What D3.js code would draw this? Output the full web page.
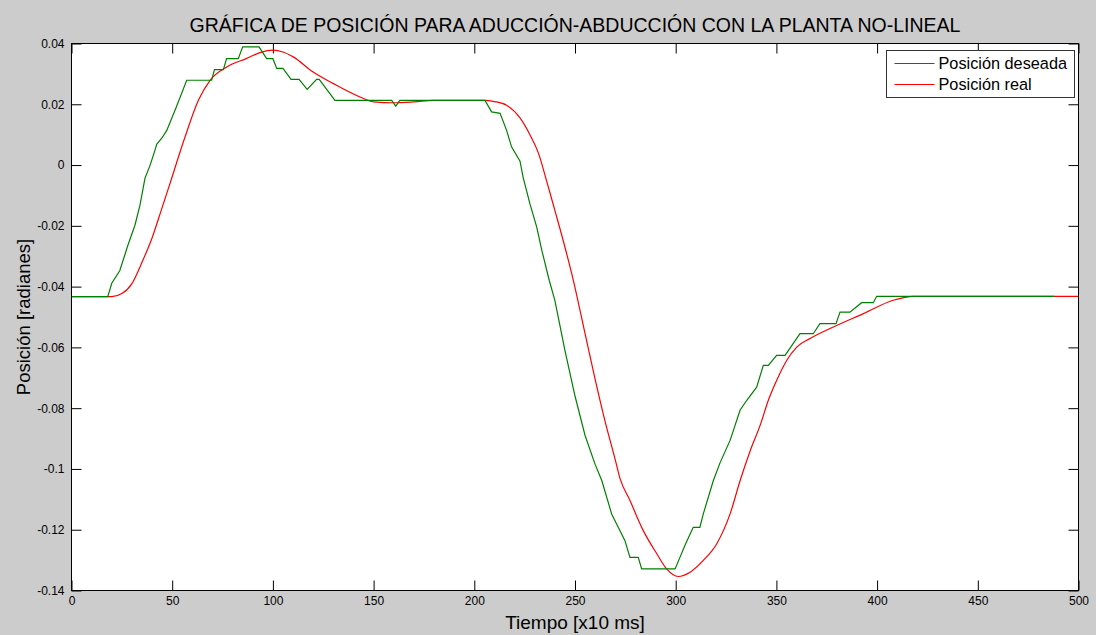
<!DOCTYPE html>
<html>
<head>
<meta charset="utf-8">
<script src="https://cdn.jsdelivr.net/npm/d3@7"></script>
<style>
  body { margin: 0; background: #cccccc; }
  svg { display: block; font-family: "Liberation Sans", Arial, sans-serif; }
</style>
</head>
<body>
<svg id="drawing_region"></svg>
<script>
// Posición deseada (escalonada)
const desiredT = [0, 18, 20, 24, 28, 31.5, 34, 36.5, 39, 41.5, 42.3, 45, 47.3, 52, 57.2, 69.6, 71, 75.4, 77, 82.8, 85, 93.1,
    96.9, 100, 101.9, 105, 109, 113, 117, 121.7, 123, 130.8, 159, 161, 163, 205.3, 208.6, 212.8, 216, 218.5, 222.7,
    224.3, 227.6, 231, 233.5, 237.2, 240, 245, 250, 255, 260, 263.3, 268.2, 274.8, 277.3, 281.4, 283.1, 299.7, 302.1,
    305, 308.7, 312, 313.7, 318.7, 322, 327, 332, 335.3, 340.2, 343.5, 346, 350.1, 354.3, 361.7, 368.3, 371.6, 379.6,
    381.6, 386.5, 392.3, 398.1, 399.8, 488];
const desiredPos = [-0.0433, -0.0433, -0.0389, -0.0347, -0.0264, -0.0198, -0.0132, -0.0043, -0.0001, 0.0050, 0.0068, 0.0090, 0.0114, 0.0190, 0.0279, 0.0279, 0.0314, 0.0314, 0.0350, 0.0350, 0.0389, 0.0389,
    0.0350, 0.0350, 0.0318, 0.0318, 0.0282, 0.0282, 0.0249, 0.0282, 0.0282, 0.0213, 0.0213, 0.0194, 0.0213, 0.0213, 0.0175, 0.0170, 0.0115, 0.0060, 0.0013,
    -0.0042, -0.0127, -0.0204, -0.0280, -0.0379, -0.0445, -0.0610, -0.0760, -0.0890, -0.0985, -0.1038, -0.1148, -0.1236, -0.1291, -0.1291, -0.1329, -0.1329, -0.1291,
    -0.1245, -0.1192, -0.1192, -0.1148, -0.1038, -0.0980, -0.0906, -0.0806, -0.0774, -0.0731, -0.0659, -0.0659, -0.0626, -0.0626, -0.0555, -0.0555, -0.0522, -0.0522,
    -0.0484, -0.0484, -0.0453, -0.0453, -0.0432, -0.0432];

// Posición real (suave)
const realT = [0, 20, 25, 30, 35, 40, 44.5, 48.6, 56.4, 63, 68.8, 77.1, 87, 93.6, 100.2, 105, 110.1, 120, 130, 143.2, 150,
    160, 170, 180, 205, 210, 216, 222.7, 227.6, 231.8, 235.9, 240, 244.2, 249.2, 255, 260, 265, 270, 272.3, 277.3,
    283.9, 290.6, 295.5, 301.3, 307.1, 313.7, 320.4, 327, 332, 337, 342, 346, 350.1, 355.1, 360.1, 366.7, 378.3,
    393.2, 408, 418, 500];
const realPos = [-0.0433, -0.0433, -0.0423, -0.0390, -0.0320, -0.0240, -0.0150, -0.0067, 0.0093, 0.0213, 0.0279, 0.0323, 0.0351, 0.0370, 0.0378, 0.0372, 0.0356, 0.0306, 0.0268, 0.0224, 0.0208,
    0.0205, 0.0208, 0.0213, 0.0213, 0.0209, 0.0197, 0.0155, 0.0100, 0.0040, -0.0052, -0.0149, -0.0250, -0.0380, -0.0555, -0.0705, -0.0845, -0.0970, -0.1030, -0.1104,
    -0.1203, -0.1279, -0.1329, -0.1354, -0.1340, -0.1301, -0.1246, -0.1148, -0.1038, -0.0940, -0.0855, -0.0774, -0.0709, -0.0643, -0.0599, -0.0571, -0.0533,
    -0.0489, -0.0445, -0.0432, -0.0432];

const xTicks = [0, 50, 100, 150, 200, 250, 300, 350, 400, 450, 500];
const yTicks = [0.04, 0.02, 0, -0.02, -0.04, -0.06, -0.08, -0.1, -0.12, -0.14];
const legendLabels = ["Posición deseada", "Posición real"];
const seriesColors = ["#008000", "#ff0000"];

const width = 1096, height = 635;
const margin = {top: 43.5, right: 17.5, bottom: 44.5, left: 71.5};
const innerW = width - margin.left - margin.right;
const innerH = height - margin.top - margin.bottom;

const svg = d3.select('#drawing_region')
    .attr('width', width)
    .attr('height', height);

svg.append('rect')
    .attr('width', width).attr('height', height)
    .attr('fill', '#cccccc');

const xscale = d3.scaleLinear().domain([0, 500]).range([0, innerW]);
const yscale = d3.scaleLinear().domain([-0.14, 0.04]).range([innerH, 0]);

const chart = svg.append('g')
    .attr('transform', `translate(${margin.left}, ${margin.top})`);

chart.append('rect')
    .attr('width', innerW).attr('height', innerH)
    .attr('fill', '#ffffff');

// ticks hacia dentro en los cuatro lados
const fmt = d => d === 0 ? '0' : String(d);
const xaxis = chart.append('g')
    .attr('transform', `translate(0, ${innerH})`)
    .call(d3.axisBottom(xscale).tickValues(xTicks).tickSize(-10).tickPadding(6).tickFormat(fmt));
chart.append('g')
    .call(d3.axisTop(xscale).tickValues(xTicks).tickSize(-10).tickFormat(''));
const yaxis = chart.append('g')
    .call(d3.axisLeft(yscale).tickValues(yTicks).tickSize(-10).tickPadding(7).tickFormat(fmt));
chart.append('g')
    .attr('transform', `translate(${innerW}, 0)`)
    .call(d3.axisRight(yscale).tickValues(yTicks).tickSize(-10).tickFormat(''));

chart.selectAll('.domain').remove();
chart.selectAll('.tick line').attr('stroke', '#000');
chart.selectAll('.tick text')
    .attr('fill', '#000')
    .attr('font-size', '12px')
    .attr('font-family', '"Liberation Sans", Arial, sans-serif');
xaxis.selectAll('.tick text').attr('dy', '0.71em');

// líneas
const lineDesired = d3.line()
    .x(i => xscale(desiredT[i]))
    .y(i => yscale(desiredPos[i]));
const lineReal = d3.line()
    .x(i => xscale(realT[i]))
    .y(i => yscale(realPos[i]))
    .curve(d3.curveMonotoneX);

chart.append('path')
    .attr('d', lineReal(d3.range(realT.length)))
    .attr('fill', 'none')
    .attr('stroke', seriesColors[1])
    .attr('stroke-width', 1.2);

chart.append('path')
    .attr('d', lineDesired(d3.range(desiredT.length)))
    .attr('fill', 'none')
    .attr('stroke', seriesColors[0])
    .attr('stroke-width', 1.2);

chart.append('rect')
    .attr('width', innerW).attr('height', innerH)
    .attr('fill', 'none')
    .attr('stroke', '#000')
    .attr('stroke-width', 1);

// leyenda
const legend = svg.append('g').attr('transform', 'translate(886.5, 50.5)');
legend.append('rect')
    .attr('width', 188).attr('height', 47)
    .attr('fill', '#fff')
    .attr('stroke', '#333');
legendLabels.forEach((lab, i) => {
    const y = 13 + i * 21;
    legend.append('line')
        .attr('x1', 8).attr('x2', 48).attr('y1', y).attr('y2', y)
        .attr('stroke', seriesColors[i]).attr('stroke-width', 1.2);
    legend.append('text')
        .attr('x', 52).attr('y', y + 5.5)
        .attr('font-size', '16.3px')
        .attr('fill', '#000')
        .text(lab);
});

// textos
svg.append('text')
    .attr('x', margin.left + innerW / 2)
    .attr('y', 31.5)
    .attr('text-anchor', 'middle')
    .attr('font-size', '19.5px')
    .attr('fill', '#000')
    .text('GRÁFICA DE POSICIÓN PARA ADUCCIÓN-ABDUCCIÓN CON LA PLANTA NO-LINEAL');

svg.append('text')
    .attr('x', margin.left + innerW / 2)
    .attr('y', 628.5)
    .attr('text-anchor', 'middle')
    .attr('font-size', '19px')
    .attr('fill', '#000')
    .text('Tiempo [x10 ms]');

svg.append('text')
    .attr('transform', `translate(29.5, ${margin.top + innerH / 2}) rotate(-90)`)
    .attr('text-anchor', 'middle')
    .attr('font-size', '18.5px')
    .attr('fill', '#000')
    .text('Posición [radianes]');
</script>
</body>
</html>
